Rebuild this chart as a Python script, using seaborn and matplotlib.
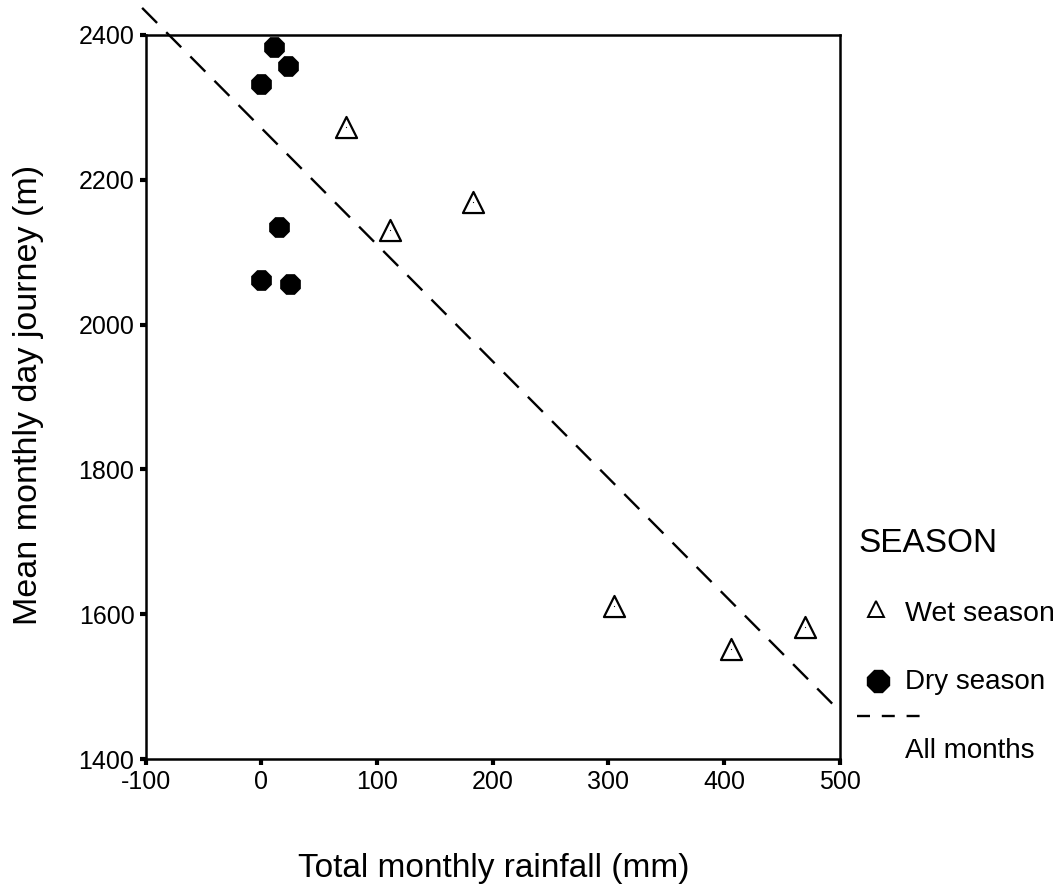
import numpy as np
import pandas as pd
import seaborn as sns
import matplotlib.pyplot as plt
from matplotlib.lines import Line2D

# Data
dry_rain = [11, 23, 0, 15, 0, 25]
dry_journey = [2383, 2357, 2332, 2135, 2062, 2056]
wet_rain = [73, 111, 183, 305, 406, 470]
wet_journey = [2273, 2131, 2169, 1611, 1552, 1582]
x_ticks = [-100, 0, 100, 200, 300, 400, 500]
y_ticks = [1400, 1600, 1800, 2000, 2200, 2400]

df = pd.DataFrame({
    "rain": dry_rain + wet_rain,
    "journey": dry_journey + wet_journey,
    "season": ["Dry season"] * len(dry_rain) + ["Wet season"] * len(wet_rain),
})
wet = df[df.season == "Wet season"]
dry = df[df.season == "Dry season"]

sns.set_theme(style="white")
plt.rcParams["font.family"] = ["Liberation Sans", "DejaVu Sans"]
plt.rcParams["text.color"] = "black"
plt.rcParams["axes.labelcolor"] = "black"
plt.rcParams["xtick.color"] = "black"
plt.rcParams["ytick.color"] = "black"
plt.rcParams["axes.unicode_minus"] = False

DASH = (0, (9, 5.5))

fig = plt.figure(figsize=(10.55, 8.91), dpi=100)
ax = fig.add_axes([0.138, 0.148, 0.658, 0.813])
ax.set_xlim(-103, 500)
ax.set_ylim(1400, 2400)

sns.regplot(data=df, x="rain", y="journey", scatter=False, ci=None,
            truncate=False, ax=ax,
            line_kws=dict(color="black", lw=1.7, ls=DASH))
for ln in ax.lines:
    ln.set_clip_on(False)

sns.scatterplot(data=wet, x="rain", y="journey", marker="^", s=230,
                facecolor="white", edgecolor="black", linewidth=1.6, ax=ax,
                zorder=3)
sns.scatterplot(data=wet, x="rain", y="journey", marker=".", s=3,
                color="black", linewidth=0, ax=ax, zorder=4)
sns.scatterplot(data=dry, x="rain", y="journey", marker="8", s=260,
                color="black", edgecolor="black", linewidth=0, ax=ax, zorder=3)

ax.set_xlim(-100, 500)
ax.set_ylim(1400, 2400)
ax.set_xticks(x_ticks)
ax.set_yticks(y_ticks)
ax.tick_params(axis="both", which="major", direction="out", length=4,
               width=3, color="black", labelcolor="black", labelsize=18,
               left=True, bottom=True, pad=4)
for s in ax.spines.values():
    s.set_visible(True)
    s.set_color("black")
    s.set_linewidth(1.8)

ax.set_xlabel("Total monthly rainfall (mm)", fontsize=24)
ax.set_ylabel("Mean monthly day journey (m)", fontsize=24.5)
ax.xaxis.set_label_coords(0.501, -0.163)
ax.xaxis.label.set_va("baseline")
ax.yaxis.set_label_coords(-0.156, 0.503)
ax.yaxis.label.set_va("baseline")

# Custom legend at right
W, H = 1055, 891
def fx(px):
    return px / W
def fy(py):
    return 1 - py / H

fig.text(fx(858), fy(543), "SEASON", fontsize=24, va="center", ha="left")
fig.add_artist(Line2D([fx(876)], [fy(609)], marker="^", ms=11,
                      mfc="white", mec="black", mew=1.4, ls="none",
                      transform=fig.transFigure))
fig.text(fx(905), fy(614), "Wet season", fontsize=20.5, va="center", ha="left")
fig.add_artist(Line2D([fx(878)], [fy(681)], marker="8", ms=16.5,
                      mfc="black", mec="black", ls="none",
                      transform=fig.transFigure))
fig.text(fx(905), fy(682), "Dry season", fontsize=20, va="center", ha="left")
fig.add_artist(Line2D([fx(857), fx(921)], [fy(716), fy(716)], color="black",
                      lw=1.7, ls=(0, (5.5, 5)), transform=fig.transFigure))
fig.text(fx(905), fy(751), "All months", fontsize=20, va="center", ha="left")

fig.savefig("out.png", dpi=100)
